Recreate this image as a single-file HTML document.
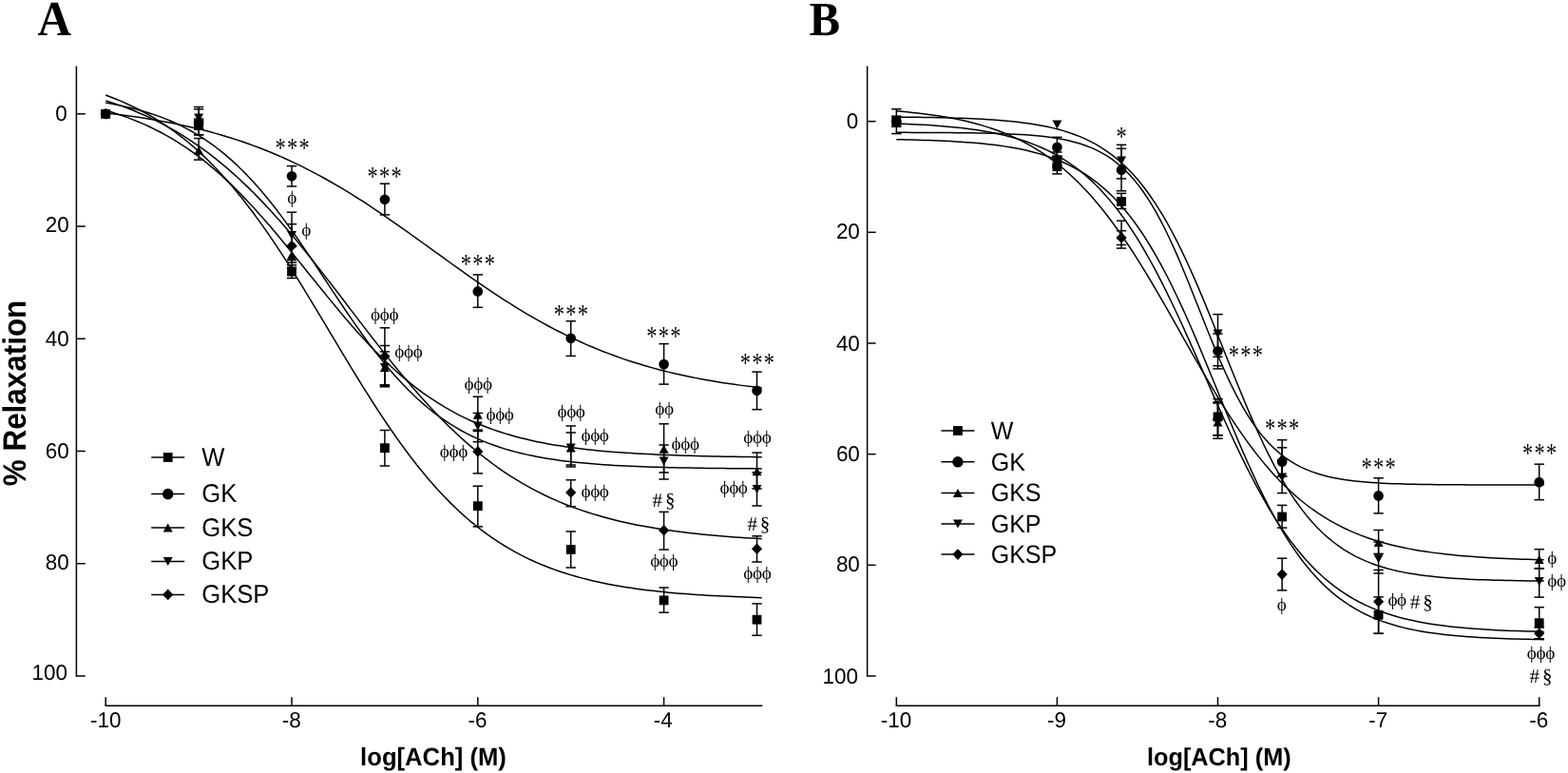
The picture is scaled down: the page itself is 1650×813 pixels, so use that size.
<!DOCTYPE html>
<html lang="en"><head><meta charset="utf-8"><title>Figure: ACh relaxation curves</title>
<style>
html,body{margin:0;padding:0;background:#fff;}
body{width:1650px;height:813px;overflow:hidden;}
svg{display:block;text-rendering:geometricPrecision;}
</style></head>
<body>
<svg width="1650" height="813" viewBox="0 0 1650 813" text-rendering="geometricPrecision">
<rect x="0" y="0" width="1650" height="813" fill="#fff"/>
<text transform="translate(39.60,36.70) scale(0.9500,1)" font-family='"Liberation Serif", "Times New Roman", Times, serif' font-size="51.80" font-weight="bold" text-anchor="start" >A</text>
<text transform="translate(851.40,36.80) scale(0.9700,1)" font-family='"Liberation Serif", "Times New Roman", Times, serif' font-size="50.40" font-weight="bold" text-anchor="start" >B</text>
<line x1="80.40" y1="69.50" x2="80.40" y2="711.75" stroke="#000" stroke-width="1.5" stroke-linecap="butt"/>
<line x1="80.40" y1="119.80" x2="89.80" y2="119.80" stroke="#000" stroke-width="1.5" stroke-linecap="butt"/>
<line x1="80.40" y1="238.04" x2="89.80" y2="238.04" stroke="#000" stroke-width="1.5" stroke-linecap="butt"/>
<line x1="80.40" y1="356.28" x2="89.80" y2="356.28" stroke="#000" stroke-width="1.5" stroke-linecap="butt"/>
<line x1="80.40" y1="474.52" x2="89.80" y2="474.52" stroke="#000" stroke-width="1.5" stroke-linecap="butt"/>
<line x1="80.40" y1="592.76" x2="89.80" y2="592.76" stroke="#000" stroke-width="1.5" stroke-linecap="butt"/>
<line x1="80.40" y1="711.00" x2="89.80" y2="711.00" stroke="#000" stroke-width="1.5" stroke-linecap="butt"/>
<line x1="110.55" y1="742.30" x2="802.40" y2="742.30" stroke="#000" stroke-width="1.5" stroke-linecap="butt"/>
<line x1="111.20" y1="742.30" x2="111.20" y2="733.20" stroke="#000" stroke-width="1.5" stroke-linecap="butt"/>
<line x1="307.00" y1="742.30" x2="307.00" y2="733.20" stroke="#000" stroke-width="1.5" stroke-linecap="butt"/>
<line x1="502.80" y1="742.30" x2="502.80" y2="733.20" stroke="#000" stroke-width="1.5" stroke-linecap="butt"/>
<line x1="698.60" y1="742.30" x2="698.60" y2="733.20" stroke="#000" stroke-width="1.5" stroke-linecap="butt"/>
<text transform="translate(70.80,126.72) scale(0.9852,1)" font-family='"Liberation Sans", Arial, Helvetica, sans-serif' font-size="22.79" text-anchor="end" >0</text>
<text transform="translate(72.69,244.21) scale(0.9852,1)" font-family='"Liberation Sans", Arial, Helvetica, sans-serif' font-size="22.79" text-anchor="end" >20</text>
<text transform="translate(72.69,363.93) scale(0.9852,1)" font-family='"Liberation Sans", Arial, Helvetica, sans-serif' font-size="22.79" text-anchor="end" >40</text>
<text transform="translate(72.69,481.59) scale(0.9852,1)" font-family='"Liberation Sans", Arial, Helvetica, sans-serif' font-size="22.79" text-anchor="end" >60</text>
<text transform="translate(72.69,599.21) scale(0.9852,1)" font-family='"Liberation Sans", Arial, Helvetica, sans-serif' font-size="22.79" text-anchor="end" >80</text>
<text transform="translate(70.96,715.35) scale(0.9852,1)" font-family='"Liberation Sans", Arial, Helvetica, sans-serif' font-size="22.79" text-anchor="end" >100</text>
<text transform="translate(111.25,765.17) scale(0.9852,1)" font-family='"Liberation Sans", Arial, Helvetica, sans-serif' font-size="22.79" text-anchor="middle" >-10</text>
<text transform="translate(306.70,765.17) scale(0.9852,1)" font-family='"Liberation Sans", Arial, Helvetica, sans-serif' font-size="22.79" text-anchor="middle" >-8</text>
<text transform="translate(502.46,765.17) scale(0.9852,1)" font-family='"Liberation Sans", Arial, Helvetica, sans-serif' font-size="22.79" text-anchor="middle" >-6</text>
<text transform="translate(697.73,765.17) scale(0.9852,1)" font-family='"Liberation Sans", Arial, Helvetica, sans-serif' font-size="22.79" text-anchor="middle" >-4</text>
<text transform="translate(456.00,804.70) scale(0.9709,1)" font-family='"Liberation Sans", Arial, Helvetica, sans-serif' font-size="26.42" font-weight="bold" text-anchor="middle" >log[ACh] (M)</text>
<text transform="translate(26.85,413.45) rotate(-90) scale(0.9217,1)" font-family='"Liberation Sans", Arial, Helvetica, sans-serif' font-size="34.10" font-weight="bold" text-anchor="middle" >% Relaxation</text>
<path d="M111.20,118.88 L116.95,119.54 L122.71,120.24 L128.46,120.96 L134.22,121.72 L139.97,122.52 L145.73,123.36 L151.48,124.24 L157.23,125.16 L162.99,126.12 L168.74,127.13 L174.50,128.19 L180.25,129.30 L186.00,130.45 L191.76,131.67 L197.51,132.93 L203.27,134.25 L209.02,135.64 L214.77,137.08 L220.53,138.58 L226.28,140.15 L232.04,141.79 L237.79,143.49 L243.55,145.27 L249.30,147.11 L255.05,149.03 L260.81,151.03 L266.56,153.10 L272.32,155.25 L278.07,157.48 L283.83,159.79 L289.58,162.19 L295.33,164.66 L301.09,167.23 L306.84,169.87 L312.60,172.60 L318.35,175.41 L324.10,178.31 L329.86,181.30 L335.61,184.36 L341.37,187.51 L347.12,190.74 L352.88,194.05 L358.63,197.44 L364.38,200.91 L370.14,204.45 L375.89,208.06 L381.65,211.73 L387.40,215.47 L393.15,219.28 L398.91,223.14 L404.66,227.05 L410.42,231.01 L416.17,235.01 L421.92,239.06 L427.68,243.13 L433.43,247.24 L439.19,251.36 L444.94,255.50 L450.70,259.66 L456.45,263.81 L462.20,267.97 L467.96,272.12 L473.71,276.26 L479.47,280.38 L485.22,284.48 L490.97,288.55 L496.73,292.58 L502.48,296.58 L508.24,300.53 L513.99,304.43 L519.75,308.27 L525.50,312.06 L531.25,315.79 L537.01,319.45 L542.76,323.05 L548.52,326.57 L554.27,330.02 L560.02,333.39 L565.78,336.68 L571.53,339.89 L577.29,343.02 L583.04,346.07 L588.80,349.03 L594.55,351.91 L600.30,354.71 L606.06,357.42 L611.81,360.04 L617.57,362.58 L623.32,365.04 L629.08,367.42 L634.83,369.71 L640.58,371.92 L646.34,374.06 L652.09,376.11 L657.85,378.09 L663.60,379.99 L669.35,381.82 L675.11,383.58 L680.86,385.27 L686.62,386.89 L692.37,388.44 L698.13,389.93 L703.88,391.36 L709.63,392.73 L715.39,394.04 L721.14,395.29 L726.90,396.49 L732.65,397.63 L738.40,398.73 L744.16,399.78 L749.91,400.77 L755.67,401.73 L761.42,402.64 L767.17,403.51 L772.93,404.34 L778.68,405.13 L784.44,405.88 L790.19,406.60 L795.95,407.28 L801.70,407.93" fill="none" stroke="#000" stroke-width="1.5" stroke-linejoin="round"/>
<path d="M111.20,100.07 L116.95,102.20 L122.71,104.47 L128.46,106.88 L134.22,109.44 L139.97,112.14 L145.73,115.01 L151.48,118.05 L157.23,121.26 L162.99,124.65 L168.74,128.24 L174.50,132.02 L180.25,136.01 L186.00,140.21 L191.76,144.62 L197.51,149.27 L203.27,154.14 L209.02,159.26 L214.77,164.61 L220.53,170.21 L226.28,176.06 L232.04,182.15 L237.79,188.51 L243.55,195.11 L249.30,201.97 L255.05,209.08 L260.81,216.43 L266.56,224.03 L272.32,231.86 L278.07,239.91 L283.83,248.19 L289.58,256.67 L295.33,265.34 L301.09,274.20 L306.84,283.21 L312.60,292.37 L318.35,301.66 L324.10,311.06 L329.86,320.55 L335.61,330.10 L341.37,339.70 L347.12,349.32 L352.88,358.95 L358.63,368.55 L364.38,378.10 L370.14,387.59 L375.89,397.00 L381.65,406.29 L387.40,415.46 L393.15,424.48 L398.91,433.34 L404.66,442.02 L410.42,450.51 L416.17,458.80 L421.92,466.86 L427.68,474.70 L433.43,482.31 L439.19,489.67 L444.94,496.79 L450.70,503.66 L456.45,510.28 L462.20,516.64 L467.96,522.75 L473.71,528.61 L479.47,534.22 L485.22,539.58 L490.97,544.71 L496.73,549.59 L502.48,554.25 L508.24,558.67 L513.99,562.88 L519.75,566.88 L525.50,570.67 L531.25,574.26 L537.01,577.67 L542.76,580.88 L548.52,583.93 L554.27,586.80 L560.02,589.52 L565.78,592.08 L571.53,594.49 L577.29,596.77 L583.04,598.91 L588.80,600.93 L594.55,602.82 L600.30,604.61 L606.06,606.28 L611.81,607.86 L617.57,609.34 L623.32,610.73 L629.08,612.03 L634.83,613.26 L640.58,614.41 L646.34,615.48 L652.09,616.49 L657.85,617.44 L663.60,618.32 L669.35,619.15 L675.11,619.93 L680.86,620.66 L686.62,621.34 L692.37,621.98 L698.13,622.58 L703.88,623.14 L709.63,623.66 L715.39,624.15 L721.14,624.61 L726.90,625.03 L732.65,625.44 L738.40,625.81 L744.16,626.16 L749.91,626.49 L755.67,626.79 L761.42,627.08 L767.17,627.35 L772.93,627.60 L778.68,627.83 L784.44,628.05 L790.19,628.26 L795.95,628.45 L801.70,628.63" fill="none" stroke="#000" stroke-width="1.5" stroke-linejoin="round"/>
<path d="M111.20,116.12 L116.95,117.83 L122.71,119.65 L128.46,121.59 L134.22,123.65 L139.97,125.85 L145.73,128.18 L151.48,130.66 L157.23,133.29 L162.99,136.07 L168.74,139.02 L174.50,142.14 L180.25,145.43 L186.00,148.90 L191.76,152.56 L197.51,156.41 L203.27,160.46 L209.02,164.70 L214.77,169.15 L220.53,173.80 L226.28,178.64 L232.04,183.70 L237.79,188.95 L243.55,194.40 L249.30,200.05 L255.05,205.88 L260.81,211.90 L266.56,218.09 L272.32,224.44 L278.07,230.94 L283.83,237.58 L289.58,244.35 L295.33,251.23 L301.09,258.20 L306.84,265.24 L312.60,272.35 L318.35,279.49 L324.10,286.66 L329.86,293.82 L335.61,300.97 L341.37,308.07 L347.12,315.13 L352.88,322.10 L358.63,328.99 L364.38,335.76 L370.14,342.41 L375.89,348.93 L381.65,355.29 L387.40,361.49 L393.15,367.52 L398.91,373.37 L404.66,379.02 L410.42,384.49 L416.17,389.76 L421.92,394.82 L427.68,399.69 L433.43,404.35 L439.19,408.81 L444.94,413.07 L450.70,417.13 L456.45,420.99 L462.20,424.66 L467.96,428.15 L473.71,431.46 L479.47,434.59 L485.22,437.55 L490.97,440.34 L496.73,442.98 L502.48,445.47 L508.24,447.81 L513.99,450.02 L519.75,452.09 L525.50,454.04 L531.25,455.87 L537.01,457.58 L542.76,459.19 L548.52,460.69 L554.27,462.10 L560.02,463.42 L565.78,464.66 L571.53,465.81 L577.29,466.89 L583.04,467.90 L588.80,468.84 L594.55,469.72 L600.30,470.54 L606.06,471.31 L611.81,472.02 L617.57,472.69 L623.32,473.31 L629.08,473.88 L634.83,474.42 L640.58,474.92 L646.34,475.39 L652.09,475.83 L657.85,476.23 L663.60,476.61 L669.35,476.96 L675.11,477.29 L680.86,477.59 L686.62,477.87 L692.37,478.14 L698.13,478.38 L703.88,478.61 L709.63,478.82 L715.39,479.02 L721.14,479.20 L726.90,479.37 L732.65,479.53 L738.40,479.68 L744.16,479.81 L749.91,479.94 L755.67,480.06 L761.42,480.17 L767.17,480.27 L772.93,480.37 L778.68,480.45 L784.44,480.54 L790.19,480.61 L795.95,480.68 L801.70,480.75" fill="none" stroke="#000" stroke-width="1.5" stroke-linejoin="round"/>
<path d="M111.20,108.10 L116.95,109.11 L122.71,110.19 L128.46,111.37 L134.22,112.65 L139.97,114.04 L145.73,115.54 L151.48,117.17 L157.23,118.93 L162.99,120.84 L168.74,122.89 L174.50,125.11 L180.25,127.51 L186.00,130.08 L191.76,132.86 L197.51,135.84 L203.27,139.03 L209.02,142.46 L214.77,146.13 L220.53,150.04 L226.28,154.22 L232.04,158.66 L237.79,163.38 L243.55,168.38 L249.30,173.67 L255.05,179.26 L260.81,185.14 L266.56,191.31 L272.32,197.77 L278.07,204.51 L283.83,211.54 L289.58,218.82 L295.33,226.36 L301.09,234.13 L306.84,242.11 L312.60,250.28 L318.35,258.61 L324.10,267.08 L329.86,275.65 L335.61,284.30 L341.37,292.99 L347.12,301.69 L352.88,310.36 L358.63,318.98 L364.38,327.50 L370.14,335.90 L375.89,344.15 L381.65,352.22 L387.40,360.10 L393.15,367.74 L398.91,375.15 L404.66,382.30 L410.42,389.17 L416.17,395.77 L421.92,402.08 L427.68,408.10 L433.43,413.82 L439.19,419.25 L444.94,424.39 L450.70,429.24 L456.45,433.81 L462.20,438.11 L467.96,442.15 L473.71,445.93 L479.47,449.47 L485.22,452.77 L490.97,455.85 L496.73,458.72 L502.48,461.39 L508.24,463.87 L513.99,466.17 L519.75,468.30 L525.50,470.28 L531.25,472.10 L537.01,473.79 L542.76,475.36 L548.52,476.80 L554.27,478.13 L560.02,479.35 L565.78,480.48 L571.53,481.52 L577.29,482.48 L583.04,483.36 L588.80,484.18 L594.55,484.92 L600.30,485.61 L606.06,486.24 L611.81,486.82 L617.57,487.35 L623.32,487.84 L629.08,488.29 L634.83,488.70 L640.58,489.08 L646.34,489.42 L652.09,489.74 L657.85,490.03 L663.60,490.30 L669.35,490.55 L675.11,490.77 L680.86,490.98 L686.62,491.17 L692.37,491.34 L698.13,491.50 L703.88,491.65 L709.63,491.78 L715.39,491.90 L721.14,492.02 L726.90,492.12 L732.65,492.21 L738.40,492.30 L744.16,492.38 L749.91,492.45 L755.67,492.52 L761.42,492.58 L767.17,492.63 L772.93,492.69 L778.68,492.73 L784.44,492.78 L790.19,492.82 L795.95,492.85 L801.70,492.88" fill="none" stroke="#000" stroke-width="1.5" stroke-linejoin="round"/>
<path d="M111.20,105.86 L116.95,107.69 L122.71,109.63 L128.46,111.66 L134.22,113.81 L139.97,116.07 L145.73,118.44 L151.48,120.94 L157.23,123.56 L162.99,126.31 L168.74,129.20 L174.50,132.23 L180.25,135.40 L186.00,138.72 L191.76,142.19 L197.51,145.82 L203.27,149.60 L209.02,153.56 L214.77,157.67 L220.53,161.96 L226.28,166.42 L232.04,171.05 L237.79,175.86 L243.55,180.84 L249.30,186.00 L255.05,191.34 L260.81,196.84 L266.56,202.52 L272.32,208.37 L278.07,214.38 L283.83,220.56 L289.58,226.89 L295.33,233.37 L301.09,240.00 L306.84,246.76 L312.60,253.64 L318.35,260.65 L324.10,267.76 L329.86,274.97 L335.61,282.26 L341.37,289.63 L347.12,297.05 L352.88,304.53 L358.63,312.03 L364.38,319.56 L370.14,327.09 L375.89,334.62 L381.65,342.12 L387.40,349.59 L393.15,357.01 L398.91,364.38 L404.66,371.66 L410.42,378.86 L416.17,385.97 L421.92,392.96 L427.68,399.84 L433.43,406.59 L439.19,413.20 L444.94,419.68 L450.70,426.00 L456.45,432.16 L462.20,438.16 L467.96,444.00 L473.71,449.66 L479.47,455.16 L485.22,460.48 L490.97,465.62 L496.73,470.59 L502.48,475.39 L508.24,480.00 L513.99,484.45 L519.75,488.73 L525.50,492.83 L531.25,496.77 L537.01,500.55 L542.76,504.16 L548.52,507.62 L554.27,510.93 L560.02,514.09 L565.78,517.11 L571.53,519.98 L577.29,522.73 L583.04,525.34 L588.80,527.82 L594.55,530.19 L600.30,532.44 L606.06,534.58 L611.81,536.61 L617.57,538.53 L623.32,540.36 L629.08,542.09 L634.83,543.74 L640.58,545.30 L646.34,546.77 L652.09,548.17 L657.85,549.49 L663.60,550.74 L669.35,551.93 L675.11,553.05 L680.86,554.11 L686.62,555.11 L692.37,556.05 L698.13,556.95 L703.88,557.79 L709.63,558.59 L715.39,559.34 L721.14,560.05 L726.90,560.72 L732.65,561.36 L738.40,561.96 L744.16,562.52 L749.91,563.05 L755.67,563.55 L761.42,564.03 L767.17,564.47 L772.93,564.89 L778.68,565.29 L784.44,565.66 L790.19,566.01 L795.95,566.35 L801.70,566.66" fill="none" stroke="#000" stroke-width="1.5" stroke-linejoin="round"/>
<rect x="106.30" y="114.90" width="9.80" height="9.80" fill="#000"/>
<line x1="209.10" y1="126.50" x2="209.10" y2="141.80" stroke="#000" stroke-width="1.5" stroke-linecap="butt"/>
<line x1="203.90" y1="126.50" x2="214.30" y2="126.50" stroke="#000" stroke-width="1.5" stroke-linecap="butt"/>
<line x1="203.90" y1="141.80" x2="214.30" y2="141.80" stroke="#000" stroke-width="1.5" stroke-linecap="butt"/>
<rect x="204.20" y="126.60" width="9.80" height="9.80" fill="#000"/>
<line x1="307.00" y1="278.80" x2="307.00" y2="292.50" stroke="#000" stroke-width="1.5" stroke-linecap="butt"/>
<line x1="301.80" y1="278.80" x2="312.20" y2="278.80" stroke="#000" stroke-width="1.5" stroke-linecap="butt"/>
<line x1="301.80" y1="292.50" x2="312.20" y2="292.50" stroke="#000" stroke-width="1.5" stroke-linecap="butt"/>
<rect x="302.10" y="280.70" width="9.80" height="9.80" fill="#000"/>
<line x1="404.90" y1="452.50" x2="404.90" y2="490.00" stroke="#000" stroke-width="1.5" stroke-linecap="butt"/>
<line x1="399.70" y1="452.50" x2="410.10" y2="452.50" stroke="#000" stroke-width="1.5" stroke-linecap="butt"/>
<line x1="399.70" y1="490.00" x2="410.10" y2="490.00" stroke="#000" stroke-width="1.5" stroke-linecap="butt"/>
<rect x="400.00" y="466.30" width="9.80" height="9.80" fill="#000"/>
<line x1="502.80" y1="511.20" x2="502.80" y2="553.90" stroke="#000" stroke-width="1.5" stroke-linecap="butt"/>
<line x1="497.60" y1="511.20" x2="508.00" y2="511.20" stroke="#000" stroke-width="1.5" stroke-linecap="butt"/>
<line x1="497.60" y1="553.90" x2="508.00" y2="553.90" stroke="#000" stroke-width="1.5" stroke-linecap="butt"/>
<rect x="497.90" y="527.30" width="9.80" height="9.80" fill="#000"/>
<line x1="600.70" y1="559.00" x2="600.70" y2="597.00" stroke="#000" stroke-width="1.5" stroke-linecap="butt"/>
<line x1="595.50" y1="559.00" x2="605.90" y2="559.00" stroke="#000" stroke-width="1.5" stroke-linecap="butt"/>
<line x1="595.50" y1="597.00" x2="605.90" y2="597.00" stroke="#000" stroke-width="1.5" stroke-linecap="butt"/>
<rect x="595.80" y="573.10" width="9.80" height="9.80" fill="#000"/>
<line x1="698.60" y1="618.00" x2="698.60" y2="644.20" stroke="#000" stroke-width="1.5" stroke-linecap="butt"/>
<line x1="693.40" y1="618.00" x2="703.80" y2="618.00" stroke="#000" stroke-width="1.5" stroke-linecap="butt"/>
<line x1="693.40" y1="644.20" x2="703.80" y2="644.20" stroke="#000" stroke-width="1.5" stroke-linecap="butt"/>
<rect x="693.70" y="626.50" width="9.80" height="9.80" fill="#000"/>
<line x1="796.50" y1="634.90" x2="796.50" y2="668.30" stroke="#000" stroke-width="1.5" stroke-linecap="butt"/>
<line x1="791.30" y1="634.90" x2="801.70" y2="634.90" stroke="#000" stroke-width="1.5" stroke-linecap="butt"/>
<line x1="791.30" y1="668.30" x2="801.70" y2="668.30" stroke="#000" stroke-width="1.5" stroke-linecap="butt"/>
<rect x="791.60" y="646.80" width="9.80" height="9.80" fill="#000"/>
<polygon points="106.20,124.30 116.20,124.30 111.20,115.30" fill="#000"/>
<line x1="209.10" y1="145.50" x2="209.10" y2="168.10" stroke="#000" stroke-width="1.5" stroke-linecap="butt"/>
<line x1="203.90" y1="145.50" x2="214.30" y2="145.50" stroke="#000" stroke-width="1.5" stroke-linecap="butt"/>
<line x1="203.90" y1="168.10" x2="214.30" y2="168.10" stroke="#000" stroke-width="1.5" stroke-linecap="butt"/>
<polygon points="204.10,162.80 214.10,162.80 209.10,153.80" fill="#000"/>
<line x1="307.00" y1="259.50" x2="307.00" y2="276.20" stroke="#000" stroke-width="1.5" stroke-linecap="butt"/>
<line x1="301.80" y1="259.50" x2="312.20" y2="259.50" stroke="#000" stroke-width="1.5" stroke-linecap="butt"/>
<line x1="301.80" y1="276.20" x2="312.20" y2="276.20" stroke="#000" stroke-width="1.5" stroke-linecap="butt"/>
<polygon points="302.00,272.70 312.00,272.70 307.00,263.70" fill="#000"/>
<line x1="404.90" y1="363.50" x2="404.90" y2="406.80" stroke="#000" stroke-width="1.5" stroke-linecap="butt"/>
<line x1="399.70" y1="363.50" x2="410.10" y2="363.50" stroke="#000" stroke-width="1.5" stroke-linecap="butt"/>
<line x1="399.70" y1="406.80" x2="410.10" y2="406.80" stroke="#000" stroke-width="1.5" stroke-linecap="butt"/>
<polygon points="399.90,391.10 409.90,391.10 404.90,382.10" fill="#000"/>
<line x1="502.80" y1="417.20" x2="502.80" y2="453.50" stroke="#000" stroke-width="1.5" stroke-linecap="butt"/>
<line x1="497.60" y1="417.20" x2="508.00" y2="417.20" stroke="#000" stroke-width="1.5" stroke-linecap="butt"/>
<line x1="497.60" y1="453.50" x2="508.00" y2="453.50" stroke="#000" stroke-width="1.5" stroke-linecap="butt"/>
<polygon points="497.80,440.80 507.80,440.80 502.80,431.80" fill="#000"/>
<line x1="600.70" y1="448.00" x2="600.70" y2="491.00" stroke="#000" stroke-width="1.5" stroke-linecap="butt"/>
<line x1="595.50" y1="448.00" x2="605.90" y2="448.00" stroke="#000" stroke-width="1.5" stroke-linecap="butt"/>
<line x1="595.50" y1="491.00" x2="605.90" y2="491.00" stroke="#000" stroke-width="1.5" stroke-linecap="butt"/>
<polygon points="595.70,475.50 605.70,475.50 600.70,466.50" fill="#000"/>
<line x1="698.60" y1="445.80" x2="698.60" y2="497.00" stroke="#000" stroke-width="1.5" stroke-linecap="butt"/>
<line x1="693.40" y1="445.80" x2="703.80" y2="445.80" stroke="#000" stroke-width="1.5" stroke-linecap="butt"/>
<line x1="693.40" y1="497.00" x2="703.80" y2="497.00" stroke="#000" stroke-width="1.5" stroke-linecap="butt"/>
<polygon points="693.60,476.80 703.60,476.80 698.60,467.80" fill="#000"/>
<line x1="796.50" y1="476.10" x2="796.50" y2="514.00" stroke="#000" stroke-width="1.5" stroke-linecap="butt"/>
<line x1="791.30" y1="476.10" x2="801.70" y2="476.10" stroke="#000" stroke-width="1.5" stroke-linecap="butt"/>
<line x1="791.30" y1="514.00" x2="801.70" y2="514.00" stroke="#000" stroke-width="1.5" stroke-linecap="butt"/>
<polygon points="791.50,500.30 801.50,500.30 796.50,491.30" fill="#000"/>
<polygon points="106.20,115.30 116.20,115.30 111.20,124.30" fill="#000"/>
<line x1="209.10" y1="112.50" x2="209.10" y2="135.50" stroke="#000" stroke-width="1.5" stroke-linecap="butt"/>
<line x1="203.90" y1="112.50" x2="214.30" y2="112.50" stroke="#000" stroke-width="1.5" stroke-linecap="butt"/>
<line x1="203.90" y1="135.50" x2="214.30" y2="135.50" stroke="#000" stroke-width="1.5" stroke-linecap="butt"/>
<polygon points="204.10,119.50 214.10,119.50 209.10,128.50" fill="#000"/>
<line x1="307.00" y1="223.20" x2="307.00" y2="273.60" stroke="#000" stroke-width="1.5" stroke-linecap="butt"/>
<line x1="301.80" y1="223.20" x2="312.20" y2="223.20" stroke="#000" stroke-width="1.5" stroke-linecap="butt"/>
<line x1="301.80" y1="273.60" x2="312.20" y2="273.60" stroke="#000" stroke-width="1.5" stroke-linecap="butt"/>
<polygon points="302.00,242.90 312.00,242.90 307.00,251.90" fill="#000"/>
<line x1="404.90" y1="369.90" x2="404.90" y2="405.50" stroke="#000" stroke-width="1.5" stroke-linecap="butt"/>
<line x1="399.70" y1="369.90" x2="410.10" y2="369.90" stroke="#000" stroke-width="1.5" stroke-linecap="butt"/>
<line x1="399.70" y1="405.50" x2="410.10" y2="405.50" stroke="#000" stroke-width="1.5" stroke-linecap="butt"/>
<polygon points="399.90,382.10 409.90,382.10 404.90,391.10" fill="#000"/>
<line x1="502.80" y1="434.50" x2="502.80" y2="464.70" stroke="#000" stroke-width="1.5" stroke-linecap="butt"/>
<line x1="497.60" y1="434.50" x2="508.00" y2="434.50" stroke="#000" stroke-width="1.5" stroke-linecap="butt"/>
<line x1="497.60" y1="464.70" x2="508.00" y2="464.70" stroke="#000" stroke-width="1.5" stroke-linecap="butt"/>
<polygon points="497.80,443.40 507.80,443.40 502.80,452.40" fill="#000"/>
<line x1="600.70" y1="455.00" x2="600.70" y2="489.00" stroke="#000" stroke-width="1.5" stroke-linecap="butt"/>
<line x1="595.50" y1="455.00" x2="605.90" y2="455.00" stroke="#000" stroke-width="1.5" stroke-linecap="butt"/>
<line x1="595.50" y1="489.00" x2="605.90" y2="489.00" stroke="#000" stroke-width="1.5" stroke-linecap="butt"/>
<polygon points="595.70,466.50 605.70,466.50 600.70,475.50" fill="#000"/>
<line x1="698.60" y1="468.00" x2="698.60" y2="504.00" stroke="#000" stroke-width="1.5" stroke-linecap="butt"/>
<line x1="693.40" y1="468.00" x2="703.80" y2="468.00" stroke="#000" stroke-width="1.5" stroke-linecap="butt"/>
<line x1="693.40" y1="504.00" x2="703.80" y2="504.00" stroke="#000" stroke-width="1.5" stroke-linecap="butt"/>
<polygon points="693.60,480.50 703.60,480.50 698.60,489.50" fill="#000"/>
<line x1="796.50" y1="497.00" x2="796.50" y2="532.00" stroke="#000" stroke-width="1.5" stroke-linecap="butt"/>
<line x1="791.30" y1="497.00" x2="801.70" y2="497.00" stroke="#000" stroke-width="1.5" stroke-linecap="butt"/>
<line x1="791.30" y1="532.00" x2="801.70" y2="532.00" stroke="#000" stroke-width="1.5" stroke-linecap="butt"/>
<polygon points="791.50,510.00 801.50,510.00 796.50,519.00" fill="#000"/>
<polygon points="105.60,119.80 111.20,114.00 116.80,119.80 111.20,125.60" fill="#000"/>
<line x1="209.10" y1="114.80" x2="209.10" y2="141.80" stroke="#000" stroke-width="1.5" stroke-linecap="butt"/>
<line x1="203.90" y1="114.80" x2="214.30" y2="114.80" stroke="#000" stroke-width="1.5" stroke-linecap="butt"/>
<line x1="203.90" y1="141.80" x2="214.30" y2="141.80" stroke="#000" stroke-width="1.5" stroke-linecap="butt"/>
<polygon points="203.50,128.50 209.10,122.70 214.70,128.50 209.10,134.30" fill="#000"/>
<line x1="307.00" y1="235.70" x2="307.00" y2="281.50" stroke="#000" stroke-width="1.5" stroke-linecap="butt"/>
<line x1="301.80" y1="235.70" x2="312.20" y2="235.70" stroke="#000" stroke-width="1.5" stroke-linecap="butt"/>
<line x1="301.80" y1="281.50" x2="312.20" y2="281.50" stroke="#000" stroke-width="1.5" stroke-linecap="butt"/>
<polygon points="301.40,258.50 307.00,252.70 312.60,258.50 307.00,264.30" fill="#000"/>
<line x1="404.90" y1="344.80" x2="404.90" y2="404.80" stroke="#000" stroke-width="1.5" stroke-linecap="butt"/>
<line x1="399.70" y1="344.80" x2="410.10" y2="344.80" stroke="#000" stroke-width="1.5" stroke-linecap="butt"/>
<line x1="399.70" y1="404.80" x2="410.10" y2="404.80" stroke="#000" stroke-width="1.5" stroke-linecap="butt"/>
<polygon points="399.30,374.80 404.90,369.00 410.50,374.80 404.90,380.60" fill="#000"/>
<line x1="502.80" y1="452.10" x2="502.80" y2="497.90" stroke="#000" stroke-width="1.5" stroke-linecap="butt"/>
<line x1="497.60" y1="452.10" x2="508.00" y2="452.10" stroke="#000" stroke-width="1.5" stroke-linecap="butt"/>
<line x1="497.60" y1="497.90" x2="508.00" y2="497.90" stroke="#000" stroke-width="1.5" stroke-linecap="butt"/>
<polygon points="497.20,474.90 502.80,469.10 508.40,474.90 502.80,480.70" fill="#000"/>
<line x1="600.70" y1="504.80" x2="600.70" y2="532.70" stroke="#000" stroke-width="1.5" stroke-linecap="butt"/>
<line x1="595.50" y1="504.80" x2="605.90" y2="504.80" stroke="#000" stroke-width="1.5" stroke-linecap="butt"/>
<line x1="595.50" y1="532.70" x2="605.90" y2="532.70" stroke="#000" stroke-width="1.5" stroke-linecap="butt"/>
<polygon points="595.10,518.00 600.70,512.20 606.30,518.00 600.70,523.80" fill="#000"/>
<line x1="698.60" y1="538.40" x2="698.60" y2="578.10" stroke="#000" stroke-width="1.5" stroke-linecap="butt"/>
<line x1="693.40" y1="538.40" x2="703.80" y2="538.40" stroke="#000" stroke-width="1.5" stroke-linecap="butt"/>
<line x1="693.40" y1="578.10" x2="703.80" y2="578.10" stroke="#000" stroke-width="1.5" stroke-linecap="butt"/>
<polygon points="693.00,557.80 698.60,552.00 704.20,557.80 698.60,563.60" fill="#000"/>
<line x1="796.50" y1="563.80" x2="796.50" y2="591.00" stroke="#000" stroke-width="1.5" stroke-linecap="butt"/>
<line x1="791.30" y1="563.80" x2="801.70" y2="563.80" stroke="#000" stroke-width="1.5" stroke-linecap="butt"/>
<line x1="791.30" y1="591.00" x2="801.70" y2="591.00" stroke="#000" stroke-width="1.5" stroke-linecap="butt"/>
<polygon points="790.90,577.20 796.50,571.40 802.10,577.20 796.50,583.00" fill="#000"/>
<ellipse cx="111.20" cy="119.80" rx="5.3" ry="5.3999999999999995" fill="#000"/>
<line x1="209.10" y1="125.00" x2="209.10" y2="136.00" stroke="#000" stroke-width="1.5" stroke-linecap="butt"/>
<line x1="203.90" y1="125.00" x2="214.30" y2="125.00" stroke="#000" stroke-width="1.5" stroke-linecap="butt"/>
<line x1="203.90" y1="136.00" x2="214.30" y2="136.00" stroke="#000" stroke-width="1.5" stroke-linecap="butt"/>
<ellipse cx="209.10" cy="130.50" rx="5.3" ry="5.3999999999999995" fill="#000"/>
<line x1="307.00" y1="174.60" x2="307.00" y2="196.00" stroke="#000" stroke-width="1.5" stroke-linecap="butt"/>
<line x1="301.80" y1="174.60" x2="312.20" y2="174.60" stroke="#000" stroke-width="1.5" stroke-linecap="butt"/>
<line x1="301.80" y1="196.00" x2="312.20" y2="196.00" stroke="#000" stroke-width="1.5" stroke-linecap="butt"/>
<ellipse cx="307.00" cy="185.30" rx="5.3" ry="5.3999999999999995" fill="#000"/>
<line x1="404.90" y1="193.20" x2="404.90" y2="225.90" stroke="#000" stroke-width="1.5" stroke-linecap="butt"/>
<line x1="399.70" y1="193.20" x2="410.10" y2="193.20" stroke="#000" stroke-width="1.5" stroke-linecap="butt"/>
<line x1="399.70" y1="225.90" x2="410.10" y2="225.90" stroke="#000" stroke-width="1.5" stroke-linecap="butt"/>
<ellipse cx="404.90" cy="209.80" rx="5.3" ry="5.3999999999999995" fill="#000"/>
<line x1="502.80" y1="288.90" x2="502.80" y2="323.30" stroke="#000" stroke-width="1.5" stroke-linecap="butt"/>
<line x1="497.60" y1="288.90" x2="508.00" y2="288.90" stroke="#000" stroke-width="1.5" stroke-linecap="butt"/>
<line x1="497.60" y1="323.30" x2="508.00" y2="323.30" stroke="#000" stroke-width="1.5" stroke-linecap="butt"/>
<ellipse cx="502.80" cy="306.50" rx="5.3" ry="5.3999999999999995" fill="#000"/>
<line x1="600.70" y1="337.70" x2="600.70" y2="374.40" stroke="#000" stroke-width="1.5" stroke-linecap="butt"/>
<line x1="595.50" y1="337.70" x2="605.90" y2="337.70" stroke="#000" stroke-width="1.5" stroke-linecap="butt"/>
<line x1="595.50" y1="374.40" x2="605.90" y2="374.40" stroke="#000" stroke-width="1.5" stroke-linecap="butt"/>
<ellipse cx="600.70" cy="355.80" rx="5.3" ry="5.3999999999999995" fill="#000"/>
<line x1="698.60" y1="361.60" x2="698.60" y2="404.10" stroke="#000" stroke-width="1.5" stroke-linecap="butt"/>
<line x1="693.40" y1="361.60" x2="703.80" y2="361.60" stroke="#000" stroke-width="1.5" stroke-linecap="butt"/>
<line x1="693.40" y1="404.10" x2="703.80" y2="404.10" stroke="#000" stroke-width="1.5" stroke-linecap="butt"/>
<ellipse cx="698.60" cy="383.10" rx="5.3" ry="5.3999999999999995" fill="#000"/>
<line x1="796.50" y1="391.10" x2="796.50" y2="430.70" stroke="#000" stroke-width="1.5" stroke-linecap="butt"/>
<line x1="791.30" y1="391.10" x2="801.70" y2="391.10" stroke="#000" stroke-width="1.5" stroke-linecap="butt"/>
<line x1="791.30" y1="430.70" x2="801.70" y2="430.70" stroke="#000" stroke-width="1.5" stroke-linecap="butt"/>
<ellipse cx="796.50" cy="410.80" rx="5.3" ry="5.3999999999999995" fill="#000"/>
<text transform="translate(308.15,164.90) scale(0.7720,1)" font-family='"Liberation Serif", "Times New Roman", Times, serif' font-size="29.00" text-anchor="middle" letter-spacing="1.69">***</text>
<text transform="translate(405.25,194.90) scale(0.7720,1)" font-family='"Liberation Serif", "Times New Roman", Times, serif' font-size="29.00" text-anchor="middle" letter-spacing="1.69">***</text>
<text transform="translate(503.45,287.30) scale(0.7720,1)" font-family='"Liberation Serif", "Times New Roman", Times, serif' font-size="29.00" text-anchor="middle" letter-spacing="1.69">***</text>
<text transform="translate(601.45,339.50) scale(0.7720,1)" font-family='"Liberation Serif", "Times New Roman", Times, serif' font-size="29.00" text-anchor="middle" letter-spacing="1.69">***</text>
<text transform="translate(699.05,363.10) scale(0.7720,1)" font-family='"Liberation Serif", "Times New Roman", Times, serif' font-size="29.00" text-anchor="middle" letter-spacing="1.69">***</text>
<text transform="translate(797.55,391.00) scale(0.7720,1)" font-family='"Liberation Serif", "Times New Roman", Times, serif' font-size="29.00" text-anchor="middle" letter-spacing="1.69">***</text>
<text transform="translate(307.20,214.10) scale(1.0100,1)" font-family='"Liberation Serif", "Times New Roman", Times, serif' font-size="19.00" text-anchor="middle" letter-spacing="-0.4">ϕ</text>
<text transform="translate(322.20,247.60) scale(1.0100,1)" font-family='"Liberation Serif", "Times New Roman", Times, serif' font-size="19.00" text-anchor="middle" letter-spacing="-0.4">ϕ</text>
<text transform="translate(404.60,336.80) scale(1.0100,1)" font-family='"Liberation Serif", "Times New Roman", Times, serif' font-size="19.00" text-anchor="middle" letter-spacing="-0.4">ϕϕϕ</text>
<text transform="translate(429.80,376.40) scale(1.0100,1)" font-family='"Liberation Serif", "Times New Roman", Times, serif' font-size="19.00" text-anchor="middle" letter-spacing="-0.4">ϕϕϕ</text>
<text transform="translate(503.10,410.10) scale(1.0100,1)" font-family='"Liberation Serif", "Times New Roman", Times, serif' font-size="19.00" text-anchor="middle" letter-spacing="-0.4">ϕϕϕ</text>
<text transform="translate(526.00,442.30) scale(1.0100,1)" font-family='"Liberation Serif", "Times New Roman", Times, serif' font-size="19.00" text-anchor="middle" letter-spacing="-0.4">ϕϕϕ</text>
<text transform="translate(477.30,480.80) scale(1.0100,1)" font-family='"Liberation Serif", "Times New Roman", Times, serif' font-size="19.00" text-anchor="middle" letter-spacing="-0.4">ϕϕϕ</text>
<text transform="translate(601.00,439.40) scale(1.0100,1)" font-family='"Liberation Serif", "Times New Roman", Times, serif' font-size="19.00" text-anchor="middle" letter-spacing="-0.4">ϕϕϕ</text>
<text transform="translate(626.00,464.20) scale(1.0100,1)" font-family='"Liberation Serif", "Times New Roman", Times, serif' font-size="19.00" text-anchor="middle" letter-spacing="-0.4">ϕϕϕ</text>
<text transform="translate(626.00,522.60) scale(1.0100,1)" font-family='"Liberation Serif", "Times New Roman", Times, serif' font-size="19.00" text-anchor="middle" letter-spacing="-0.4">ϕϕϕ</text>
<text transform="translate(699.00,436.40) scale(1.0100,1)" font-family='"Liberation Serif", "Times New Roman", Times, serif' font-size="19.00" text-anchor="middle" letter-spacing="-0.4">ϕϕ</text>
<text transform="translate(721.10,472.50) scale(1.0100,1)" font-family='"Liberation Serif", "Times New Roman", Times, serif' font-size="19.00" text-anchor="middle" letter-spacing="-0.4">ϕϕϕ</text>
<text transform="translate(698.70,595.60) scale(1.0100,1)" font-family='"Liberation Serif", "Times New Roman", Times, serif' font-size="19.00" text-anchor="middle" letter-spacing="-0.4">ϕϕϕ</text>
<text transform="translate(796.80,465.80) scale(1.0100,1)" font-family='"Liberation Serif", "Times New Roman", Times, serif' font-size="19.00" text-anchor="middle" letter-spacing="-0.4">ϕϕϕ</text>
<text transform="translate(772.00,518.60) scale(1.0100,1)" font-family='"Liberation Serif", "Times New Roman", Times, serif' font-size="19.00" text-anchor="middle" letter-spacing="-0.4">ϕϕϕ</text>
<text transform="translate(796.80,608.60) scale(1.0100,1)" font-family='"Liberation Serif", "Times New Roman", Times, serif' font-size="19.00" text-anchor="middle" letter-spacing="-0.4">ϕϕϕ</text>
<text transform="translate(686.60,532.80)" font-family='"Liberation Serif", "Times New Roman", Times, serif' font-size="21.00" text-anchor="start" word-spacing="-2.35" xml:space="preserve"># §</text>
<text transform="translate(786.40,558.00)" font-family='"Liberation Serif", "Times New Roman", Times, serif' font-size="21.00" text-anchor="start" word-spacing="-2.35" xml:space="preserve"># §</text>
<line x1="159.20" y1="481.00" x2="194.20" y2="481.00" stroke="#000" stroke-width="1.5" stroke-linecap="butt"/>
<rect x="171.80" y="476.10" width="9.80" height="9.80" fill="#000"/>
<text transform="translate(212.30,489.70) scale(0.9434,1)" font-family='"Liberation Sans", Arial, Helvetica, sans-serif' font-size="27.14" text-anchor="start" >W</text>
<line x1="159.20" y1="519.60" x2="194.20" y2="519.60" stroke="#000" stroke-width="1.5" stroke-linecap="butt"/>
<ellipse cx="176.70" cy="519.60" rx="5.7" ry="5.8" fill="#000"/>
<text transform="translate(212.30,527.50) scale(0.9434,1)" font-family='"Liberation Sans", Arial, Helvetica, sans-serif' font-size="27.14" text-anchor="start" >GK</text>
<line x1="159.20" y1="555.10" x2="194.20" y2="555.10" stroke="#000" stroke-width="1.5" stroke-linecap="butt"/>
<polygon points="171.70,559.60 181.70,559.60 176.70,550.60" fill="#000"/>
<text transform="translate(212.30,563.50) scale(0.9434,1)" font-family='"Liberation Sans", Arial, Helvetica, sans-serif' font-size="27.14" text-anchor="start" >GKS</text>
<line x1="159.20" y1="590.50" x2="194.20" y2="590.50" stroke="#000" stroke-width="1.5" stroke-linecap="butt"/>
<polygon points="171.70,586.00 181.70,586.00 176.70,595.00" fill="#000"/>
<text transform="translate(212.30,599.20) scale(0.9434,1)" font-family='"Liberation Sans", Arial, Helvetica, sans-serif' font-size="27.14" text-anchor="start" >GKP</text>
<line x1="159.20" y1="625.40" x2="194.20" y2="625.40" stroke="#000" stroke-width="1.5" stroke-linecap="butt"/>
<polygon points="171.10,625.40 176.70,619.60 182.30,625.40 176.70,631.20" fill="#000"/>
<text transform="translate(212.30,634.00) scale(0.9434,1)" font-family='"Liberation Sans", Arial, Helvetica, sans-serif' font-size="27.14" text-anchor="start" >GKSP</text>
<line x1="912.60" y1="69.50" x2="912.60" y2="711.75" stroke="#000" stroke-width="1.5" stroke-linecap="butt"/>
<line x1="912.60" y1="127.65" x2="921.60" y2="127.65" stroke="#000" stroke-width="1.5" stroke-linecap="butt"/>
<line x1="912.60" y1="244.32" x2="921.60" y2="244.32" stroke="#000" stroke-width="1.5" stroke-linecap="butt"/>
<line x1="912.60" y1="360.99" x2="921.60" y2="360.99" stroke="#000" stroke-width="1.5" stroke-linecap="butt"/>
<line x1="912.60" y1="477.66" x2="921.60" y2="477.66" stroke="#000" stroke-width="1.5" stroke-linecap="butt"/>
<line x1="912.60" y1="594.33" x2="921.60" y2="594.33" stroke="#000" stroke-width="1.5" stroke-linecap="butt"/>
<line x1="912.60" y1="711.00" x2="921.60" y2="711.00" stroke="#000" stroke-width="1.5" stroke-linecap="butt"/>
<line x1="942.55" y1="742.30" x2="1620.65" y2="742.30" stroke="#000" stroke-width="1.5" stroke-linecap="butt"/>
<line x1="943.30" y1="742.30" x2="943.30" y2="733.20" stroke="#000" stroke-width="1.5" stroke-linecap="butt"/>
<line x1="1112.40" y1="742.30" x2="1112.40" y2="733.20" stroke="#000" stroke-width="1.5" stroke-linecap="butt"/>
<line x1="1281.50" y1="742.30" x2="1281.50" y2="733.20" stroke="#000" stroke-width="1.5" stroke-linecap="butt"/>
<line x1="1450.60" y1="742.30" x2="1450.60" y2="733.20" stroke="#000" stroke-width="1.5" stroke-linecap="butt"/>
<line x1="1619.70" y1="742.30" x2="1619.70" y2="733.20" stroke="#000" stroke-width="1.5" stroke-linecap="butt"/>
<text transform="translate(903.31,134.72) scale(0.9852,1)" font-family='"Liberation Sans", Arial, Helvetica, sans-serif' font-size="22.79" text-anchor="end" >0</text>
<text transform="translate(904.86,250.69) scale(0.9852,1)" font-family='"Liberation Sans", Arial, Helvetica, sans-serif' font-size="22.79" text-anchor="end" >20</text>
<text transform="translate(904.86,368.72) scale(0.9852,1)" font-family='"Liberation Sans", Arial, Helvetica, sans-serif' font-size="22.79" text-anchor="end" >40</text>
<text transform="translate(904.86,484.90) scale(0.9852,1)" font-family='"Liberation Sans", Arial, Helvetica, sans-serif' font-size="22.79" text-anchor="end" >60</text>
<text transform="translate(904.86,600.86) scale(0.9852,1)" font-family='"Liberation Sans", Arial, Helvetica, sans-serif' font-size="22.79" text-anchor="end" >80</text>
<text transform="translate(902.96,718.72) scale(0.9852,1)" font-family='"Liberation Sans", Arial, Helvetica, sans-serif' font-size="22.79" text-anchor="end" >100</text>
<text transform="translate(943.00,765.00) scale(0.9852,1)" font-family='"Liberation Sans", Arial, Helvetica, sans-serif' font-size="22.79" text-anchor="middle" >-10</text>
<text transform="translate(1112.00,765.00) scale(0.9852,1)" font-family='"Liberation Sans", Arial, Helvetica, sans-serif' font-size="22.79" text-anchor="middle" >-9</text>
<text transform="translate(1281.20,765.00) scale(0.9852,1)" font-family='"Liberation Sans", Arial, Helvetica, sans-serif' font-size="22.79" text-anchor="middle" >-8</text>
<text transform="translate(1450.30,765.00) scale(0.9852,1)" font-family='"Liberation Sans", Arial, Helvetica, sans-serif' font-size="22.79" text-anchor="middle" >-7</text>
<text transform="translate(1619.20,765.00) scale(0.9852,1)" font-family='"Liberation Sans", Arial, Helvetica, sans-serif' font-size="22.79" text-anchor="middle" >-6</text>
<text transform="translate(1282.80,804.70) scale(0.9709,1)" font-family='"Liberation Sans", Arial, Helvetica, sans-serif' font-size="26.06" font-weight="bold" text-anchor="middle" >log[ACh] (M)</text>
<path d="M943.30,139.35 L948.98,139.36 L954.66,139.37 L960.34,139.39 L966.01,139.40 L971.69,139.42 L977.37,139.45 L983.05,139.47 L988.73,139.50 L994.40,139.54 L1000.08,139.58 L1005.76,139.63 L1011.44,139.69 L1017.12,139.76 L1022.80,139.84 L1028.47,139.93 L1034.15,140.04 L1039.83,140.16 L1045.51,140.31 L1051.19,140.48 L1056.87,140.67 L1062.54,140.90 L1068.22,141.17 L1073.90,141.49 L1079.58,141.85 L1085.26,142.28 L1090.94,142.78 L1096.62,143.35 L1102.29,144.03 L1107.97,144.81 L1113.65,145.72 L1119.33,146.77 L1125.01,148.00 L1130.68,149.42 L1136.36,151.06 L1142.04,152.96 L1147.72,155.15 L1153.40,157.68 L1159.08,160.58 L1164.76,163.91 L1170.43,167.72 L1176.11,172.07 L1181.79,177.00 L1187.47,182.58 L1193.15,188.86 L1198.82,195.90 L1204.50,203.73 L1210.18,212.40 L1215.86,221.92 L1221.54,232.29 L1227.22,243.49 L1232.89,255.48 L1238.57,268.18 L1244.25,281.49 L1249.93,295.29 L1255.61,309.43 L1261.29,323.76 L1266.97,338.09 L1272.64,352.26 L1278.32,366.12 L1284.00,379.50 L1289.68,392.28 L1295.36,404.36 L1301.04,415.67 L1306.71,426.15 L1312.39,435.77 L1318.07,444.55 L1323.75,452.49 L1329.43,459.62 L1335.11,466.00 L1340.78,471.67 L1346.46,476.68 L1352.14,481.09 L1357.82,484.97 L1363.50,488.36 L1369.17,491.31 L1374.85,493.88 L1380.53,496.12 L1386.21,498.05 L1391.89,499.72 L1397.57,501.17 L1403.24,502.42 L1408.92,503.49 L1414.60,504.42 L1420.28,505.22 L1425.96,505.90 L1431.64,506.49 L1437.32,507.00 L1442.99,507.43 L1448.67,507.81 L1454.35,508.13 L1460.03,508.40 L1465.71,508.64 L1471.39,508.84 L1477.06,509.01 L1482.74,509.16 L1488.42,509.29 L1494.10,509.40 L1499.78,509.49 L1505.45,509.57 L1511.13,509.64 L1516.81,509.70 L1522.49,509.75 L1528.17,509.79 L1533.85,509.83 L1539.53,509.86 L1545.20,509.89 L1550.88,509.91 L1556.56,509.93 L1562.24,509.95 L1567.92,509.96 L1573.60,509.97 L1579.27,509.98 L1584.95,509.99 L1590.63,510.00 L1596.31,510.01 L1601.99,510.01 L1607.67,510.02 L1613.34,510.02 L1619.02,510.03 L1624.70,510.03" fill="none" stroke="#000" stroke-width="1.5" stroke-linejoin="round"/>
<path d="M943.30,123.08 L948.98,123.13 L954.66,123.19 L960.34,123.26 L966.01,123.33 L971.69,123.41 L977.37,123.50 L983.05,123.61 L988.73,123.72 L994.40,123.85 L1000.08,124.00 L1005.76,124.16 L1011.44,124.35 L1017.12,124.55 L1022.80,124.78 L1028.47,125.04 L1034.15,125.34 L1039.83,125.67 L1045.51,126.03 L1051.19,126.45 L1056.87,126.91 L1062.54,127.43 L1068.22,128.01 L1073.90,128.67 L1079.58,129.40 L1085.26,130.22 L1090.94,131.14 L1096.62,132.17 L1102.29,133.32 L1107.97,134.61 L1113.65,136.04 L1119.33,137.65 L1125.01,139.44 L1130.68,141.44 L1136.36,143.66 L1142.04,146.14 L1147.72,148.89 L1153.40,151.94 L1159.08,155.32 L1164.76,159.06 L1170.43,163.20 L1176.11,167.75 L1181.79,172.76 L1187.47,178.26 L1193.15,184.28 L1198.82,190.84 L1204.50,197.98 L1210.18,205.72 L1215.86,214.08 L1221.54,223.08 L1227.22,232.71 L1232.89,242.99 L1238.57,253.89 L1244.25,265.39 L1249.93,277.47 L1255.61,290.07 L1261.29,303.15 L1266.97,316.63 L1272.64,330.44 L1278.32,344.50 L1284.00,358.70 L1289.68,372.97 L1295.36,387.19 L1301.04,401.28 L1306.71,415.14 L1312.39,428.69 L1318.07,441.84 L1323.75,454.54 L1329.43,466.71 L1335.11,478.32 L1340.78,489.33 L1346.46,499.72 L1352.14,509.47 L1357.82,518.58 L1363.50,527.05 L1369.17,534.91 L1374.85,542.15 L1380.53,548.82 L1386.21,554.93 L1391.89,560.52 L1397.57,565.62 L1403.24,570.25 L1408.92,574.46 L1414.60,578.27 L1420.28,581.71 L1425.96,584.82 L1431.64,587.63 L1437.32,590.15 L1442.99,592.42 L1448.67,594.45 L1454.35,596.28 L1460.03,597.92 L1465.71,599.38 L1471.39,600.70 L1477.06,601.87 L1482.74,602.92 L1488.42,603.86 L1494.10,604.70 L1499.78,605.44 L1505.45,606.11 L1511.13,606.71 L1516.81,607.24 L1522.49,607.71 L1528.17,608.13 L1533.85,608.51 L1539.53,608.84 L1545.20,609.14 L1550.88,609.41 L1556.56,609.65 L1562.24,609.86 L1567.92,610.05 L1573.60,610.21 L1579.27,610.36 L1584.95,610.49 L1590.63,610.61 L1596.31,610.72 L1601.99,610.81 L1607.67,610.89 L1613.34,610.97 L1619.02,611.03 L1624.70,611.09" fill="none" stroke="#000" stroke-width="1.5" stroke-linejoin="round"/>
<path d="M943.30,116.78 L948.98,117.27 L954.66,117.80 L960.34,118.38 L966.01,119.00 L971.69,119.68 L977.37,120.42 L983.05,121.21 L988.73,122.08 L994.40,123.01 L1000.08,124.03 L1005.76,125.13 L1011.44,126.31 L1017.12,127.60 L1022.80,128.99 L1028.47,130.49 L1034.15,132.11 L1039.83,133.87 L1045.51,135.76 L1051.19,137.79 L1056.87,139.99 L1062.54,142.35 L1068.22,144.90 L1073.90,147.63 L1079.58,150.56 L1085.26,153.71 L1090.94,157.08 L1096.62,160.69 L1102.29,164.55 L1107.97,168.67 L1113.65,173.05 L1119.33,177.72 L1125.01,182.69 L1130.68,187.95 L1136.36,193.52 L1142.04,199.41 L1147.72,205.61 L1153.40,212.15 L1159.08,219.00 L1164.76,226.18 L1170.43,233.68 L1176.11,241.49 L1181.79,249.61 L1187.47,258.02 L1193.15,266.71 L1198.82,275.66 L1204.50,284.85 L1210.18,294.25 L1215.86,303.84 L1221.54,313.59 L1227.22,323.46 L1232.89,333.44 L1238.57,343.47 L1244.25,353.53 L1249.93,363.57 L1255.61,373.58 L1261.29,383.50 L1266.97,393.31 L1272.64,402.98 L1278.32,412.47 L1284.00,421.76 L1289.68,430.82 L1295.36,439.64 L1301.04,448.18 L1306.71,456.43 L1312.39,464.39 L1318.07,472.03 L1323.75,479.36 L1329.43,486.37 L1335.11,493.05 L1340.78,499.41 L1346.46,505.44 L1352.14,511.16 L1357.82,516.56 L1363.50,521.66 L1369.17,526.47 L1374.85,530.98 L1380.53,535.23 L1386.21,539.20 L1391.89,542.92 L1397.57,546.40 L1403.24,549.65 L1408.92,552.69 L1414.60,555.51 L1420.28,558.14 L1425.96,560.58 L1431.64,562.86 L1437.32,564.97 L1442.99,566.92 L1448.67,568.74 L1454.35,570.42 L1460.03,571.98 L1465.71,573.42 L1471.39,574.75 L1477.06,575.98 L1482.74,577.12 L1488.42,578.17 L1494.10,579.14 L1499.78,580.04 L1505.45,580.87 L1511.13,581.63 L1516.81,582.34 L1522.49,582.99 L1528.17,583.58 L1533.85,584.14 L1539.53,584.64 L1545.20,585.11 L1550.88,585.55 L1556.56,585.94 L1562.24,586.31 L1567.92,586.65 L1573.60,586.96 L1579.27,587.24 L1584.95,587.51 L1590.63,587.75 L1596.31,587.97 L1601.99,588.18 L1607.67,588.37 L1613.34,588.54 L1619.02,588.70 L1624.70,588.85" fill="none" stroke="#000" stroke-width="1.5" stroke-linejoin="round"/>
<path d="M943.30,129.93 L948.98,130.14 L954.66,130.38 L960.34,130.65 L966.01,130.94 L971.69,131.26 L977.37,131.61 L983.05,131.99 L988.73,132.42 L994.40,132.88 L1000.08,133.40 L1005.76,133.96 L1011.44,134.58 L1017.12,135.26 L1022.80,136.00 L1028.47,136.82 L1034.15,137.72 L1039.83,138.71 L1045.51,139.79 L1051.19,140.97 L1056.87,142.27 L1062.54,143.69 L1068.22,145.25 L1073.90,146.96 L1079.58,148.82 L1085.26,150.85 L1090.94,153.08 L1096.62,155.50 L1102.29,158.15 L1107.97,161.03 L1113.65,164.16 L1119.33,167.56 L1125.01,171.26 L1130.68,175.26 L1136.36,179.60 L1142.04,184.28 L1147.72,189.34 L1153.40,194.78 L1159.08,200.63 L1164.76,206.91 L1170.43,213.63 L1176.11,220.80 L1181.79,228.44 L1187.47,236.55 L1193.15,245.14 L1198.82,254.20 L1204.50,263.75 L1210.18,273.75 L1215.86,284.21 L1221.54,295.09 L1227.22,306.38 L1232.89,318.04 L1238.57,330.03 L1244.25,342.31 L1249.93,354.83 L1255.61,367.54 L1261.29,380.38 L1266.97,393.30 L1272.64,406.23 L1278.32,419.12 L1284.00,431.91 L1289.68,444.54 L1295.36,456.95 L1301.04,469.10 L1306.71,480.94 L1312.39,492.43 L1318.07,503.53 L1323.75,514.21 L1329.43,524.46 L1335.11,534.25 L1340.78,543.56 L1346.46,552.41 L1352.14,560.77 L1357.82,568.66 L1363.50,576.07 L1369.17,583.03 L1374.85,589.53 L1380.53,595.61 L1386.21,601.27 L1391.89,606.52 L1397.57,611.40 L1403.24,615.92 L1408.92,620.10 L1414.60,623.95 L1420.28,627.51 L1425.96,630.78 L1431.64,633.79 L1437.32,636.56 L1442.99,639.09 L1448.67,641.42 L1454.35,643.55 L1460.03,645.51 L1465.71,647.29 L1471.39,648.93 L1477.06,650.42 L1482.74,651.78 L1488.42,653.02 L1494.10,654.16 L1499.78,655.19 L1505.45,656.14 L1511.13,657.00 L1516.81,657.78 L1522.49,658.50 L1528.17,659.14 L1533.85,659.74 L1539.53,660.28 L1545.20,660.77 L1550.88,661.21 L1556.56,661.62 L1562.24,661.99 L1567.92,662.32 L1573.60,662.63 L1579.27,662.90 L1584.95,663.16 L1590.63,663.39 L1596.31,663.59 L1601.99,663.78 L1607.67,663.96 L1613.34,664.11 L1619.02,664.25 L1624.70,664.38" fill="none" stroke="#000" stroke-width="1.5" stroke-linejoin="round"/>
<path d="M943.30,146.68 L948.98,146.80 L954.66,146.92 L960.34,147.06 L966.01,147.21 L971.69,147.38 L977.37,147.57 L983.05,147.78 L988.73,148.02 L994.40,148.28 L1000.08,148.56 L1005.76,148.88 L1011.44,149.24 L1017.12,149.63 L1022.80,150.07 L1028.47,150.55 L1034.15,151.09 L1039.83,151.68 L1045.51,152.34 L1051.19,153.07 L1056.87,153.88 L1062.54,154.77 L1068.22,155.76 L1073.90,156.86 L1079.58,158.07 L1085.26,159.42 L1090.94,160.90 L1096.62,162.54 L1102.29,164.34 L1107.97,166.33 L1113.65,168.53 L1119.33,170.95 L1125.01,173.60 L1130.68,176.52 L1136.36,179.73 L1142.04,183.24 L1147.72,187.08 L1153.40,191.29 L1159.08,195.87 L1164.76,200.86 L1170.43,206.28 L1176.11,212.17 L1181.79,218.53 L1187.47,225.40 L1193.15,232.79 L1198.82,240.72 L1204.50,249.20 L1210.18,258.25 L1215.86,267.85 L1221.54,278.02 L1227.22,288.73 L1232.89,299.97 L1238.57,311.72 L1244.25,323.93 L1249.93,336.56 L1255.61,349.57 L1261.29,362.90 L1266.97,376.47 L1272.64,390.22 L1278.32,404.09 L1284.00,417.98 L1289.68,431.82 L1295.36,445.55 L1301.04,459.08 L1306.71,472.34 L1312.39,485.28 L1318.07,497.83 L1323.75,509.95 L1329.43,521.60 L1335.11,532.73 L1340.78,543.34 L1346.46,553.39 L1352.14,562.88 L1357.82,571.81 L1363.50,580.18 L1369.17,588.00 L1374.85,595.29 L1380.53,602.05 L1386.21,608.32 L1391.89,614.10 L1397.57,619.44 L1403.24,624.35 L1408.92,628.85 L1414.60,632.98 L1420.28,636.75 L1425.96,640.20 L1431.64,643.34 L1437.32,646.21 L1442.99,648.82 L1448.67,651.19 L1454.35,653.34 L1460.03,655.29 L1465.71,657.06 L1471.39,658.67 L1477.06,660.12 L1482.74,661.44 L1488.42,662.62 L1494.10,663.70 L1499.78,664.67 L1505.45,665.55 L1511.13,666.34 L1516.81,667.06 L1522.49,667.70 L1528.17,668.28 L1533.85,668.81 L1539.53,669.28 L1545.20,669.71 L1550.88,670.09 L1556.56,670.44 L1562.24,670.75 L1567.92,671.03 L1573.60,671.29 L1579.27,671.52 L1584.95,671.72 L1590.63,671.91 L1596.31,672.08 L1601.99,672.23 L1607.67,672.36 L1613.34,672.48 L1619.02,672.59 L1624.70,672.69" fill="none" stroke="#000" stroke-width="1.5" stroke-linejoin="round"/>
<line x1="943.30" y1="122.10" x2="943.30" y2="133.20" stroke="#000" stroke-width="1.5" stroke-linecap="butt"/>
<line x1="938.10" y1="122.10" x2="948.50" y2="122.10" stroke="#000" stroke-width="1.5" stroke-linecap="butt"/>
<line x1="938.10" y1="133.20" x2="948.50" y2="133.20" stroke="#000" stroke-width="1.5" stroke-linecap="butt"/>
<rect x="938.40" y="122.75" width="9.80" height="9.80" fill="#000"/>
<line x1="1112.40" y1="166.00" x2="1112.40" y2="182.90" stroke="#000" stroke-width="1.5" stroke-linecap="butt"/>
<line x1="1107.20" y1="166.00" x2="1117.60" y2="166.00" stroke="#000" stroke-width="1.5" stroke-linecap="butt"/>
<line x1="1107.20" y1="182.90" x2="1117.60" y2="182.90" stroke="#000" stroke-width="1.5" stroke-linecap="butt"/>
<rect x="1107.50" y="170.30" width="9.80" height="9.80" fill="#000"/>
<line x1="1180.04" y1="203.40" x2="1180.04" y2="219.60" stroke="#000" stroke-width="1.5" stroke-linecap="butt"/>
<line x1="1174.84" y1="203.40" x2="1185.24" y2="203.40" stroke="#000" stroke-width="1.5" stroke-linecap="butt"/>
<line x1="1174.84" y1="219.60" x2="1185.24" y2="219.60" stroke="#000" stroke-width="1.5" stroke-linecap="butt"/>
<rect x="1175.14" y="207.00" width="9.80" height="9.80" fill="#000"/>
<line x1="1281.50" y1="419.50" x2="1281.50" y2="457.60" stroke="#000" stroke-width="1.5" stroke-linecap="butt"/>
<line x1="1276.30" y1="419.50" x2="1286.70" y2="419.50" stroke="#000" stroke-width="1.5" stroke-linecap="butt"/>
<line x1="1276.30" y1="457.60" x2="1286.70" y2="457.60" stroke="#000" stroke-width="1.5" stroke-linecap="butt"/>
<rect x="1276.60" y="433.50" width="9.80" height="9.80" fill="#000"/>
<line x1="1349.14" y1="531.40" x2="1349.14" y2="555.10" stroke="#000" stroke-width="1.5" stroke-linecap="butt"/>
<line x1="1343.94" y1="531.40" x2="1354.34" y2="531.40" stroke="#000" stroke-width="1.5" stroke-linecap="butt"/>
<line x1="1343.94" y1="555.10" x2="1354.34" y2="555.10" stroke="#000" stroke-width="1.5" stroke-linecap="butt"/>
<rect x="1344.24" y="538.60" width="9.80" height="9.80" fill="#000"/>
<line x1="1450.60" y1="627.90" x2="1450.60" y2="666.30" stroke="#000" stroke-width="1.5" stroke-linecap="butt"/>
<line x1="1445.40" y1="627.90" x2="1455.80" y2="627.90" stroke="#000" stroke-width="1.5" stroke-linecap="butt"/>
<line x1="1445.40" y1="666.30" x2="1455.80" y2="666.30" stroke="#000" stroke-width="1.5" stroke-linecap="butt"/>
<rect x="1445.70" y="641.90" width="9.80" height="9.80" fill="#000"/>
<line x1="1619.70" y1="638.70" x2="1619.70" y2="672.00" stroke="#000" stroke-width="1.5" stroke-linecap="butt"/>
<line x1="1614.50" y1="638.70" x2="1624.90" y2="638.70" stroke="#000" stroke-width="1.5" stroke-linecap="butt"/>
<line x1="1614.50" y1="672.00" x2="1624.90" y2="672.00" stroke="#000" stroke-width="1.5" stroke-linecap="butt"/>
<rect x="1614.80" y="650.30" width="9.80" height="9.80" fill="#000"/>
<polygon points="938.30,132.15 948.30,132.15 943.30,123.15" fill="#000"/>
<line x1="1112.40" y1="164.30" x2="1112.40" y2="174.00" stroke="#000" stroke-width="1.5" stroke-linecap="butt"/>
<line x1="1107.20" y1="164.30" x2="1117.60" y2="164.30" stroke="#000" stroke-width="1.5" stroke-linecap="butt"/>
<line x1="1107.20" y1="174.00" x2="1117.60" y2="174.00" stroke="#000" stroke-width="1.5" stroke-linecap="butt"/>
<polygon points="1107.40,173.50 1117.40,173.50 1112.40,164.50" fill="#000"/>
<line x1="1180.04" y1="232.20" x2="1180.04" y2="261.10" stroke="#000" stroke-width="1.5" stroke-linecap="butt"/>
<line x1="1174.84" y1="232.20" x2="1185.24" y2="232.20" stroke="#000" stroke-width="1.5" stroke-linecap="butt"/>
<line x1="1174.84" y1="261.10" x2="1185.24" y2="261.10" stroke="#000" stroke-width="1.5" stroke-linecap="butt"/>
<polygon points="1175.04,251.50 1185.04,251.50 1180.04,242.50" fill="#000"/>
<line x1="1281.50" y1="422.90" x2="1281.50" y2="461.20" stroke="#000" stroke-width="1.5" stroke-linecap="butt"/>
<line x1="1276.30" y1="422.90" x2="1286.70" y2="422.90" stroke="#000" stroke-width="1.5" stroke-linecap="butt"/>
<line x1="1276.30" y1="461.20" x2="1286.70" y2="461.20" stroke="#000" stroke-width="1.5" stroke-linecap="butt"/>
<polygon points="1276.50,448.40 1286.50,448.40 1281.50,439.40" fill="#000"/>
<line x1="1349.14" y1="462.70" x2="1349.14" y2="501.00" stroke="#000" stroke-width="1.5" stroke-linecap="butt"/>
<line x1="1343.94" y1="462.70" x2="1354.34" y2="462.70" stroke="#000" stroke-width="1.5" stroke-linecap="butt"/>
<line x1="1343.94" y1="501.00" x2="1354.34" y2="501.00" stroke="#000" stroke-width="1.5" stroke-linecap="butt"/>
<polygon points="1344.14,485.80 1354.14,485.80 1349.14,476.80" fill="#000"/>
<line x1="1450.60" y1="557.50" x2="1450.60" y2="582.40" stroke="#000" stroke-width="1.5" stroke-linecap="butt"/>
<line x1="1445.40" y1="557.50" x2="1455.80" y2="557.50" stroke="#000" stroke-width="1.5" stroke-linecap="butt"/>
<line x1="1445.40" y1="582.40" x2="1455.80" y2="582.40" stroke="#000" stroke-width="1.5" stroke-linecap="butt"/>
<polygon points="1445.60,575.00 1455.60,575.00 1450.60,566.00" fill="#000"/>
<line x1="1619.70" y1="577.70" x2="1619.70" y2="597.90" stroke="#000" stroke-width="1.5" stroke-linecap="butt"/>
<line x1="1614.50" y1="577.70" x2="1624.90" y2="577.70" stroke="#000" stroke-width="1.5" stroke-linecap="butt"/>
<line x1="1614.50" y1="597.90" x2="1624.90" y2="597.90" stroke="#000" stroke-width="1.5" stroke-linecap="butt"/>
<polygon points="1614.70,592.90 1624.70,592.90 1619.70,583.90" fill="#000"/>
<line x1="943.30" y1="114.70" x2="943.30" y2="140.60" stroke="#000" stroke-width="1.5" stroke-linecap="butt"/>
<line x1="938.10" y1="114.70" x2="948.50" y2="114.70" stroke="#000" stroke-width="1.5" stroke-linecap="butt"/>
<line x1="938.10" y1="140.60" x2="948.50" y2="140.60" stroke="#000" stroke-width="1.5" stroke-linecap="butt"/>
<polygon points="938.30,123.15 948.30,123.15 943.30,132.15" fill="#000"/>
<polygon points="1107.40,126.50 1117.40,126.50 1112.40,135.50" fill="#000"/>
<line x1="1180.04" y1="152.30" x2="1180.04" y2="187.90" stroke="#000" stroke-width="1.5" stroke-linecap="butt"/>
<line x1="1174.84" y1="152.30" x2="1185.24" y2="152.30" stroke="#000" stroke-width="1.5" stroke-linecap="butt"/>
<line x1="1174.84" y1="187.90" x2="1185.24" y2="187.90" stroke="#000" stroke-width="1.5" stroke-linecap="butt"/>
<polygon points="1175.04,164.40 1185.04,164.40 1180.04,173.40" fill="#000"/>
<line x1="1281.50" y1="330.60" x2="1281.50" y2="375.30" stroke="#000" stroke-width="1.5" stroke-linecap="butt"/>
<line x1="1276.30" y1="330.60" x2="1286.70" y2="330.60" stroke="#000" stroke-width="1.5" stroke-linecap="butt"/>
<line x1="1276.30" y1="375.30" x2="1286.70" y2="375.30" stroke="#000" stroke-width="1.5" stroke-linecap="butt"/>
<polygon points="1276.50,346.40 1286.50,346.40 1281.50,355.40" fill="#000"/>
<line x1="1349.14" y1="484.00" x2="1349.14" y2="518.60" stroke="#000" stroke-width="1.5" stroke-linecap="butt"/>
<line x1="1343.94" y1="484.00" x2="1354.34" y2="484.00" stroke="#000" stroke-width="1.5" stroke-linecap="butt"/>
<line x1="1343.94" y1="518.60" x2="1354.34" y2="518.60" stroke="#000" stroke-width="1.5" stroke-linecap="butt"/>
<polygon points="1344.14,497.40 1354.14,497.40 1349.14,506.40" fill="#000"/>
<line x1="1450.60" y1="570.00" x2="1450.60" y2="603.00" stroke="#000" stroke-width="1.5" stroke-linecap="butt"/>
<line x1="1445.40" y1="570.00" x2="1455.80" y2="570.00" stroke="#000" stroke-width="1.5" stroke-linecap="butt"/>
<line x1="1445.40" y1="603.00" x2="1455.80" y2="603.00" stroke="#000" stroke-width="1.5" stroke-linecap="butt"/>
<polygon points="1445.60,583.30 1455.60,583.30 1450.60,592.30" fill="#000"/>
<line x1="1619.70" y1="597.90" x2="1619.70" y2="628.10" stroke="#000" stroke-width="1.5" stroke-linecap="butt"/>
<line x1="1614.50" y1="597.90" x2="1624.90" y2="597.90" stroke="#000" stroke-width="1.5" stroke-linecap="butt"/>
<line x1="1614.50" y1="628.10" x2="1624.90" y2="628.10" stroke="#000" stroke-width="1.5" stroke-linecap="butt"/>
<polygon points="1614.70,607.00 1624.70,607.00 1619.70,616.00" fill="#000"/>
<polygon points="937.70,127.65 943.30,121.85 948.90,127.65 943.30,133.45" fill="#000"/>
<line x1="1112.40" y1="160.00" x2="1112.40" y2="176.00" stroke="#000" stroke-width="1.5" stroke-linecap="butt"/>
<line x1="1107.20" y1="160.00" x2="1117.60" y2="160.00" stroke="#000" stroke-width="1.5" stroke-linecap="butt"/>
<line x1="1107.20" y1="176.00" x2="1117.60" y2="176.00" stroke="#000" stroke-width="1.5" stroke-linecap="butt"/>
<polygon points="1106.80,168.00 1112.40,162.20 1118.00,168.00 1112.40,173.80" fill="#000"/>
<line x1="1180.04" y1="242.70" x2="1180.04" y2="257.50" stroke="#000" stroke-width="1.5" stroke-linecap="butt"/>
<line x1="1174.84" y1="242.70" x2="1185.24" y2="242.70" stroke="#000" stroke-width="1.5" stroke-linecap="butt"/>
<line x1="1174.84" y1="257.50" x2="1185.24" y2="257.50" stroke="#000" stroke-width="1.5" stroke-linecap="butt"/>
<polygon points="1174.44,250.10 1180.04,244.30 1185.64,250.10 1180.04,255.90" fill="#000"/>
<line x1="1281.50" y1="424.00" x2="1281.50" y2="458.00" stroke="#000" stroke-width="1.5" stroke-linecap="butt"/>
<line x1="1276.30" y1="424.00" x2="1286.70" y2="424.00" stroke="#000" stroke-width="1.5" stroke-linecap="butt"/>
<line x1="1276.30" y1="458.00" x2="1286.70" y2="458.00" stroke="#000" stroke-width="1.5" stroke-linecap="butt"/>
<polygon points="1275.90,441.00 1281.50,435.20 1287.10,441.00 1281.50,446.80" fill="#000"/>
<line x1="1349.14" y1="587.20" x2="1349.14" y2="620.90" stroke="#000" stroke-width="1.5" stroke-linecap="butt"/>
<line x1="1343.94" y1="587.20" x2="1354.34" y2="587.20" stroke="#000" stroke-width="1.5" stroke-linecap="butt"/>
<line x1="1343.94" y1="620.90" x2="1354.34" y2="620.90" stroke="#000" stroke-width="1.5" stroke-linecap="butt"/>
<polygon points="1343.54,604.10 1349.14,598.30 1354.74,604.10 1349.14,609.90" fill="#000"/>
<line x1="1450.60" y1="599.50" x2="1450.60" y2="666.30" stroke="#000" stroke-width="1.5" stroke-linecap="butt"/>
<line x1="1445.40" y1="599.50" x2="1455.80" y2="599.50" stroke="#000" stroke-width="1.5" stroke-linecap="butt"/>
<line x1="1445.40" y1="666.30" x2="1455.80" y2="666.30" stroke="#000" stroke-width="1.5" stroke-linecap="butt"/>
<polygon points="1445.00,632.80 1450.60,627.00 1456.20,632.80 1450.60,638.60" fill="#000"/>
<line x1="1619.70" y1="660.00" x2="1619.70" y2="672.00" stroke="#000" stroke-width="1.5" stroke-linecap="butt"/>
<line x1="1614.50" y1="660.00" x2="1624.90" y2="660.00" stroke="#000" stroke-width="1.5" stroke-linecap="butt"/>
<line x1="1614.50" y1="672.00" x2="1624.90" y2="672.00" stroke="#000" stroke-width="1.5" stroke-linecap="butt"/>
<polygon points="1614.10,666.30 1619.70,660.50 1625.30,666.30 1619.70,672.10" fill="#000"/>
<ellipse cx="943.30" cy="127.65" rx="5.3" ry="5.3999999999999995" fill="#000"/>
<line x1="1112.40" y1="144.30" x2="1112.40" y2="164.30" stroke="#000" stroke-width="1.5" stroke-linecap="butt"/>
<line x1="1107.20" y1="144.30" x2="1117.60" y2="144.30" stroke="#000" stroke-width="1.5" stroke-linecap="butt"/>
<line x1="1107.20" y1="164.30" x2="1117.60" y2="164.30" stroke="#000" stroke-width="1.5" stroke-linecap="butt"/>
<ellipse cx="1112.40" cy="154.90" rx="5.3" ry="5.3999999999999995" fill="#000"/>
<line x1="1180.04" y1="156.30" x2="1180.04" y2="200.80" stroke="#000" stroke-width="1.5" stroke-linecap="butt"/>
<line x1="1174.84" y1="156.30" x2="1185.24" y2="156.30" stroke="#000" stroke-width="1.5" stroke-linecap="butt"/>
<line x1="1174.84" y1="200.80" x2="1185.24" y2="200.80" stroke="#000" stroke-width="1.5" stroke-linecap="butt"/>
<ellipse cx="1180.04" cy="178.70" rx="5.3" ry="5.3999999999999995" fill="#000"/>
<line x1="1281.50" y1="351.00" x2="1281.50" y2="387.90" stroke="#000" stroke-width="1.5" stroke-linecap="butt"/>
<line x1="1276.30" y1="351.00" x2="1286.70" y2="351.00" stroke="#000" stroke-width="1.5" stroke-linecap="butt"/>
<line x1="1276.30" y1="387.90" x2="1286.70" y2="387.90" stroke="#000" stroke-width="1.5" stroke-linecap="butt"/>
<ellipse cx="1281.50" cy="369.30" rx="5.3" ry="5.3999999999999995" fill="#000"/>
<line x1="1349.14" y1="470.80" x2="1349.14" y2="501.00" stroke="#000" stroke-width="1.5" stroke-linecap="butt"/>
<line x1="1343.94" y1="470.80" x2="1354.34" y2="470.80" stroke="#000" stroke-width="1.5" stroke-linecap="butt"/>
<line x1="1343.94" y1="501.00" x2="1354.34" y2="501.00" stroke="#000" stroke-width="1.5" stroke-linecap="butt"/>
<ellipse cx="1349.14" cy="485.70" rx="5.3" ry="5.3999999999999995" fill="#000"/>
<line x1="1450.60" y1="502.80" x2="1450.60" y2="539.90" stroke="#000" stroke-width="1.5" stroke-linecap="butt"/>
<line x1="1445.40" y1="502.80" x2="1455.80" y2="502.80" stroke="#000" stroke-width="1.5" stroke-linecap="butt"/>
<line x1="1445.40" y1="539.90" x2="1455.80" y2="539.90" stroke="#000" stroke-width="1.5" stroke-linecap="butt"/>
<ellipse cx="1450.60" cy="521.50" rx="5.3" ry="5.3999999999999995" fill="#000"/>
<line x1="1619.70" y1="488.20" x2="1619.70" y2="525.70" stroke="#000" stroke-width="1.5" stroke-linecap="butt"/>
<line x1="1614.50" y1="488.20" x2="1624.90" y2="488.20" stroke="#000" stroke-width="1.5" stroke-linecap="butt"/>
<line x1="1614.50" y1="525.70" x2="1624.90" y2="525.70" stroke="#000" stroke-width="1.5" stroke-linecap="butt"/>
<ellipse cx="1619.70" cy="507.20" rx="5.3" ry="5.3999999999999995" fill="#000"/>
<line x1="1276.30" y1="384.80" x2="1286.70" y2="384.80" stroke="#000" stroke-width="1.5" stroke-linecap="butt"/>
<text transform="translate(1180.85,153.10) scale(0.7720,1)" font-family='"Liberation Serif", "Times New Roman", Times, serif' font-size="29.00" text-anchor="middle" letter-spacing="1.69">*</text>
<text transform="translate(1311.55,383.20) scale(0.7720,1)" font-family='"Liberation Serif", "Times New Roman", Times, serif' font-size="29.00" text-anchor="middle" letter-spacing="1.69">***</text>
<text transform="translate(1349.65,459.60) scale(0.7720,1)" font-family='"Liberation Serif", "Times New Roman", Times, serif' font-size="29.00" text-anchor="middle" letter-spacing="1.69">***</text>
<text transform="translate(1451.25,500.90) scale(0.7720,1)" font-family='"Liberation Serif", "Times New Roman", Times, serif' font-size="29.00" text-anchor="middle" letter-spacing="1.69">***</text>
<text transform="translate(1620.65,486.30) scale(0.7720,1)" font-family='"Liberation Serif", "Times New Roman", Times, serif' font-size="29.00" text-anchor="middle" letter-spacing="1.69">***</text>
<text transform="translate(1348.60,641.60) scale(1.0100,1)" font-family='"Liberation Serif", "Times New Roman", Times, serif' font-size="19.00" text-anchor="middle" letter-spacing="-0.4">ϕ</text>
<text transform="translate(1633.00,592.60) scale(1.0100,1)" font-family='"Liberation Serif", "Times New Roman", Times, serif' font-size="19.00" text-anchor="middle" letter-spacing="-0.4">ϕ</text>
<text transform="translate(1637.90,617.20) scale(1.0100,1)" font-family='"Liberation Serif", "Times New Roman", Times, serif' font-size="19.00" text-anchor="middle" letter-spacing="-0.4">ϕϕ</text>
<text transform="translate(1621.30,693.10) scale(1.0100,1)" font-family='"Liberation Serif", "Times New Roman", Times, serif' font-size="19.00" text-anchor="middle" letter-spacing="-0.4">ϕϕϕ</text>
<text transform="translate(1609.60,717.60)" font-family='"Liberation Serif", "Times New Roman", Times, serif' font-size="21.00" text-anchor="start" word-spacing="-2.35" xml:space="preserve"># §</text>
<text transform="translate(1470.10,637.40) scale(1.0100,1)" font-family='"Liberation Serif", "Times New Roman", Times, serif' font-size="19.00" text-anchor="middle" letter-spacing="-0.4">ϕϕ</text>
<text transform="translate(1483.80,639.80)" font-family='"Liberation Serif", "Times New Roman", Times, serif' font-size="21.00" text-anchor="start" word-spacing="-2.35" xml:space="preserve"># §</text>
<line x1="990.40" y1="453.00" x2="1025.40" y2="453.00" stroke="#000" stroke-width="1.5" stroke-linecap="butt"/>
<rect x="1003.00" y="448.10" width="9.80" height="9.80" fill="#000"/>
<text transform="translate(1042.70,462.40) scale(0.9434,1)" font-family='"Liberation Sans", Arial, Helvetica, sans-serif' font-size="26.50" text-anchor="start" >W</text>
<line x1="990.40" y1="485.80" x2="1025.40" y2="485.80" stroke="#000" stroke-width="1.5" stroke-linecap="butt"/>
<ellipse cx="1007.90" cy="485.80" rx="5.7" ry="5.8" fill="#000"/>
<text transform="translate(1042.70,494.80) scale(0.9434,1)" font-family='"Liberation Sans", Arial, Helvetica, sans-serif' font-size="26.50" text-anchor="start" >GK</text>
<line x1="990.40" y1="518.50" x2="1025.40" y2="518.50" stroke="#000" stroke-width="1.5" stroke-linecap="butt"/>
<polygon points="1002.90,523.00 1012.90,523.00 1007.90,514.00" fill="#000"/>
<text transform="translate(1042.70,526.70) scale(0.9434,1)" font-family='"Liberation Sans", Arial, Helvetica, sans-serif' font-size="26.50" text-anchor="start" >GKS</text>
<line x1="990.40" y1="551.00" x2="1025.40" y2="551.00" stroke="#000" stroke-width="1.5" stroke-linecap="butt"/>
<polygon points="1002.90,546.50 1012.90,546.50 1007.90,555.50" fill="#000"/>
<text transform="translate(1042.70,559.50) scale(0.9434,1)" font-family='"Liberation Sans", Arial, Helvetica, sans-serif' font-size="26.50" text-anchor="start" >GKP</text>
<line x1="990.40" y1="583.10" x2="1025.40" y2="583.10" stroke="#000" stroke-width="1.5" stroke-linecap="butt"/>
<polygon points="1002.30,583.10 1007.90,577.30 1013.50,583.10 1007.90,588.90" fill="#000"/>
<text transform="translate(1042.70,591.50) scale(0.9434,1)" font-family='"Liberation Sans", Arial, Helvetica, sans-serif' font-size="26.50" text-anchor="start" >GKSP</text>
</svg>
</body></html>
